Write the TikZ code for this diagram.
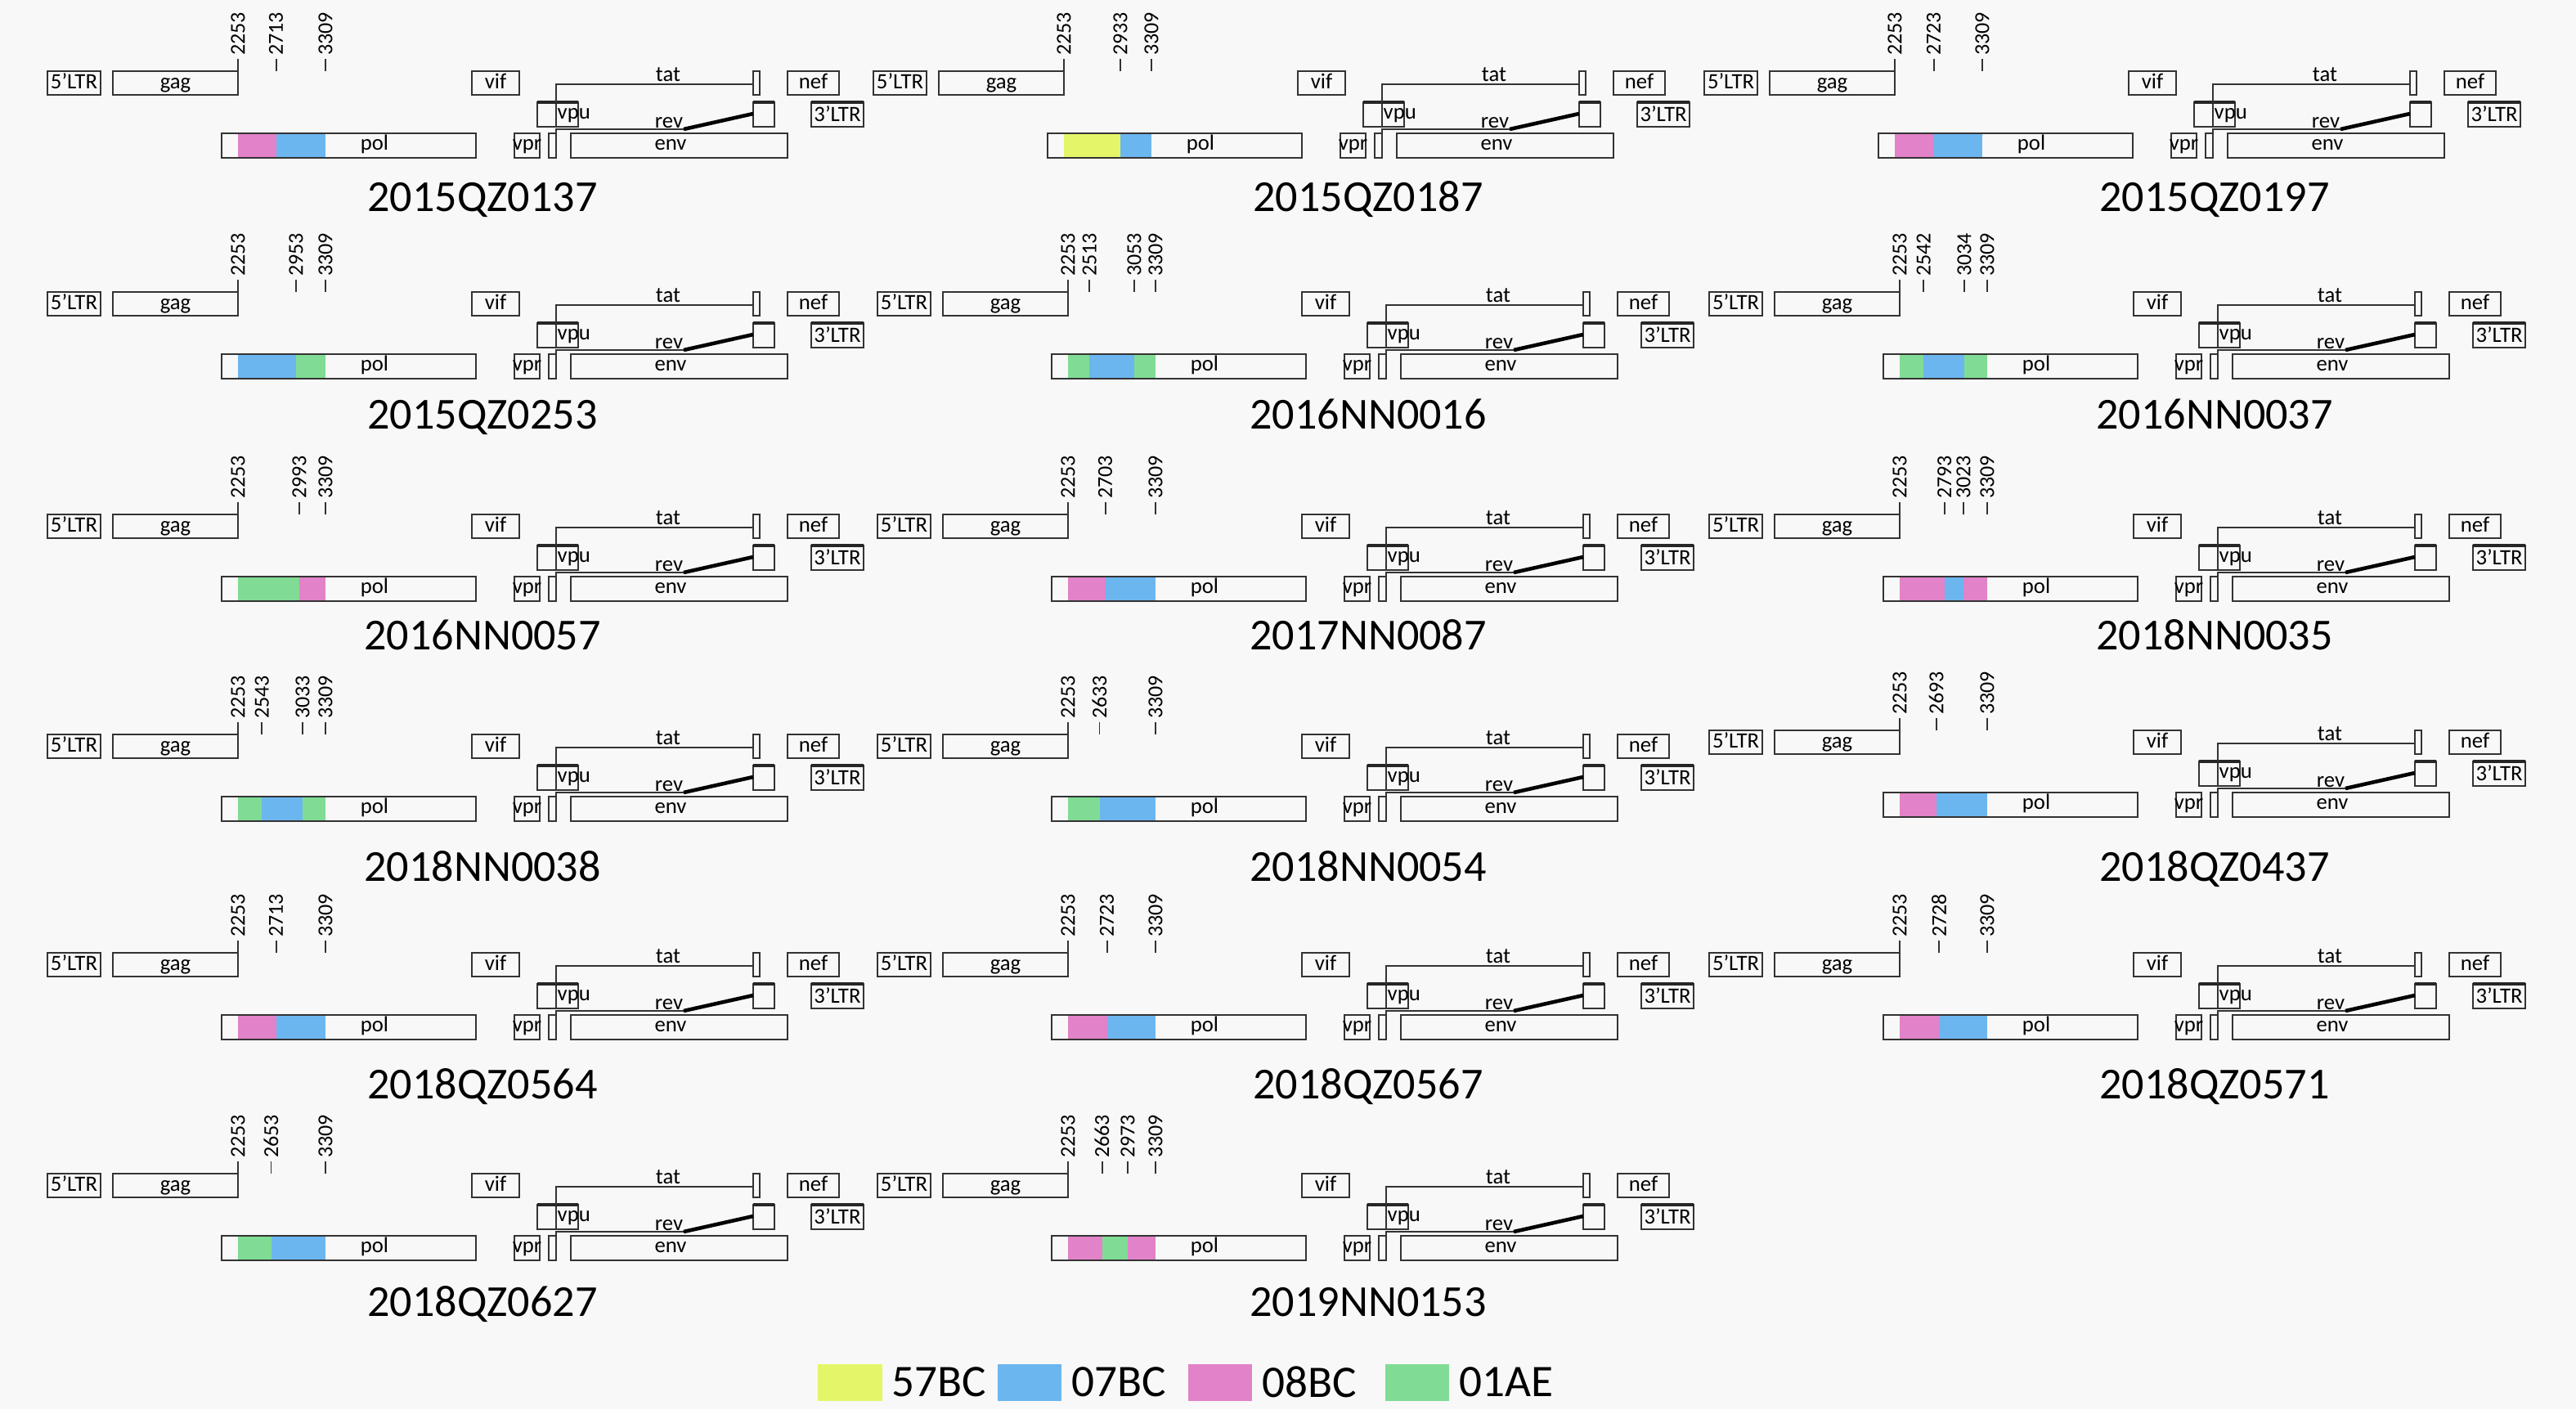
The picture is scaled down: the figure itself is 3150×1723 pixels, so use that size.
\documentclass[tikz,border=0pt]{standalone}
\usepackage{fontspec}
\setmainfont{Carlito}
\usetikzlibrary{positioning}

\definecolor{bgc}{RGB}{248,248,248}
\definecolor{c57BC}{RGB}{228,246,104}
\definecolor{c07BC}{RGB}{108,182,240}
\definecolor{c08BC}{RGB}{226,130,200}
\definecolor{c01AE}{RGB}{128,220,148}

\tikzset{
  gene/.style={draw=black!80, line width=0.55pt},
  genetop/.style={draw=black!85, line width=1.2pt},
  revlink/.style={draw=black, line width=1.3pt},
  glab/.style={font=\fontsize{7.6}{8.5}\selectfont, inner sep=0pt, text height=4.8pt, text depth=1.5pt},
  tlab/.style={font=\fontsize{7.4}{8.5}\selectfont, rotate=90, anchor=west, inner sep=1pt},
  ttl/.style={font=\fontsize{15.4}{18}\selectfont, anchor=base, inner sep=0pt},
  swatch/.style={minimum width=0.78cm, minimum height=0.45cm, inner sep=0pt},
  leg/.style={font=\fontsize{15.7}{19}\selectfont, inner sep=0pt}
}

% nt -> px along the map
\newcommand{\ntx}{0.1013}

% #1,#2 origin (2253 / top of gag), #3 strain, #4,#5 title, #6 breakpoints, #7 segments
\newcommand{\hivpanel}[7]{%
\begin{scope}[shift={(#1,#2)}]
 \foreach \sa/\sb/\sc in {#7}
  \fill[\sc] ({(\sa-2253)*\ntx},76) rectangle ({(\sb-2253)*\ntx},106);
 \foreach \t in {#6} {
  \draw[gene] ({(\t-2253)*\ntx},-15) -- ++(0,15);
  \node[tlab] (#3-\t) at ({(\t-2253)*\ntx},-15) {\t};
 }
 \draw[gene] (-233,0) rectangle (-168,29);
 \draw[gene] (-153,0) rectangle (0,29);
 \draw[gene] (286,0) rectangle (344,29);
 \draw[gene] (630,0) rectangle (638,29);
 \draw[gene] (672,0) rectangle (735,29);
 \draw[gene] (366,38) rectangle (389,68);
 \draw[gene] (389,38) rectangle (416,68);
 \draw[gene] (630,38) rectangle (656,68);
 \draw[gene] (701,38) rectangle (765,68);
 \draw[gene] (-20,76) rectangle (291,106);
 \draw[gene] (338,76) rectangle (369,106);
 \draw[gene] (380,76) rectangle (389,106);
 \draw[gene] (407,76) rectangle (672,106);
 \draw[genetop] (366,38) -- (416,38);
 \draw[genetop] (630,38) -- (656,38);
 \draw[genetop] (701,38) -- (765,38);
 \draw[gene] (389,38) |- (630,16);
 \draw[gene] (389,76) |- (545,71);
 \draw[revlink] (545,71) -- (630,52);
 \node[glab] (#3-ltr5) at (-200.5,16) {5’LTR};
 \node[glab] (#3-gag) at (-76.5,16) {gag};
 \node[glab] (#3-vif) at (315,16) {vif};
 \node[glab] (#3-tat) at (526,7) {tat};
 \node[glab] (#3-nef) at (703.5,16) {nef};
 \node[glab, anchor=west] (#3-vpu) at (390,53) {vpu};
 \node[glab] (#3-rev) at (527,64) {rev};
 \node[glab] (#3-ltr3) at (733,56) {3’LTR};
 \node[glab] (#3-pol) at (167,91) {pol};
 \node[glab] (#3-vpr) at (353.5,91) {vpr};
 \node[glab] (#3-env) at (529,91) {env};
\end{scope}
\node[ttl] (#3) at (#4,#5) {#3};
}

\begin{document}
\begin{tikzpicture}[x=0.01cm, y=-0.01cm]
\useasboundingbox (0,0) rectangle (3150,1723);
\fill[bgc] (0,0) rectangle (3150,1723);

\hivpanel{291}{87}{2015QZ0137}{590}{258}{2253,2713,3309}{2253/2713/c08BC,2713/3309/c07BC}
\hivpanel{1301}{87}{2015QZ0187}{1673}{258}{2253,2933,3309}{2253/2933/c57BC,2933/3309/c07BC}
\hivpanel{2317}{87}{2015QZ0197}{2708}{258}{2253,2723,3309}{2253/2723/c08BC,2723/3309/c07BC}

\hivpanel{291}{357}{2015QZ0253}{590}{524}{2253,2953,3309}{2253/2953/c07BC,2953/3309/c01AE}
\hivpanel{1306}{357}{2016NN0016}{1673}{524}{2253,2513,3053,3309}{2253/2513/c01AE,2513/3053/c07BC,3053/3309/c01AE}
\hivpanel{2323}{357}{2016NN0037}{2708}{524}{2253,2542,3034,3309}{2253/2542/c01AE,2542/3034/c07BC,3034/3309/c01AE}

\hivpanel{291}{629}{2016NN0057}{590}{794}{2253,2993,3309}{2253/2993/c01AE,2993/3309/c08BC}
\hivpanel{1306}{629}{2017NN0087}{1673}{794}{2253,2703,3309}{2253/2703/c08BC,2703/3309/c07BC}
\hivpanel{2323}{629}{2018NN0035}{2708}{794}{2253,2793,3023,3309}{2253/2793/c08BC,2793/3023/c07BC,3023/3309/c08BC}

\hivpanel{291}{898}{2018NN0038}{590}{1077}{2253,2543,3033,3309}{2253/2543/c01AE,2543/3033/c07BC,3033/3309/c01AE}
\hivpanel{1306}{898}{2018NN0054}{1673}{1077}{2253,2633,3309}{2253/2633/c01AE,2633/3309/c07BC}
\hivpanel{2323}{893}{2018QZ0437}{2708}{1077}{2253,2693,3309}{2253/2693/c08BC,2693/3309/c07BC}

\hivpanel{291}{1165}{2018QZ0564}{590}{1343}{2253,2713,3309}{2253/2713/c08BC,2713/3309/c07BC}
\hivpanel{1306}{1165}{2018QZ0567}{1673}{1343}{2253,2723,3309}{2253/2723/c08BC,2723/3309/c07BC}
\hivpanel{2323}{1165}{2018QZ0571}{2708}{1343}{2253,2728,3309}{2253/2728/c08BC,2728/3309/c07BC}

\hivpanel{291}{1435}{2018QZ0627}{590}{1609}{2253,2653,3309}{2253/2653/c01AE,2653/3309/c07BC}
\hivpanel{1306}{1435}{2019NN0153}{1673}{1609}{2253,2663,2973,3309}{2253/2663/c08BC,2663/2973/c01AE,2973/3309/c08BC}

% legend
\foreach \k/\xx in {57BC/1039.5, 07BC/1259, 08BC/1492, 01AE/1733} {
 \node[swatch, fill=c\k] (k\k) at (\xx,1690) {};
 \node[leg, right=0.11cm of k\k] (l\k) {\k};
}
\end{tikzpicture}
\end{document}
